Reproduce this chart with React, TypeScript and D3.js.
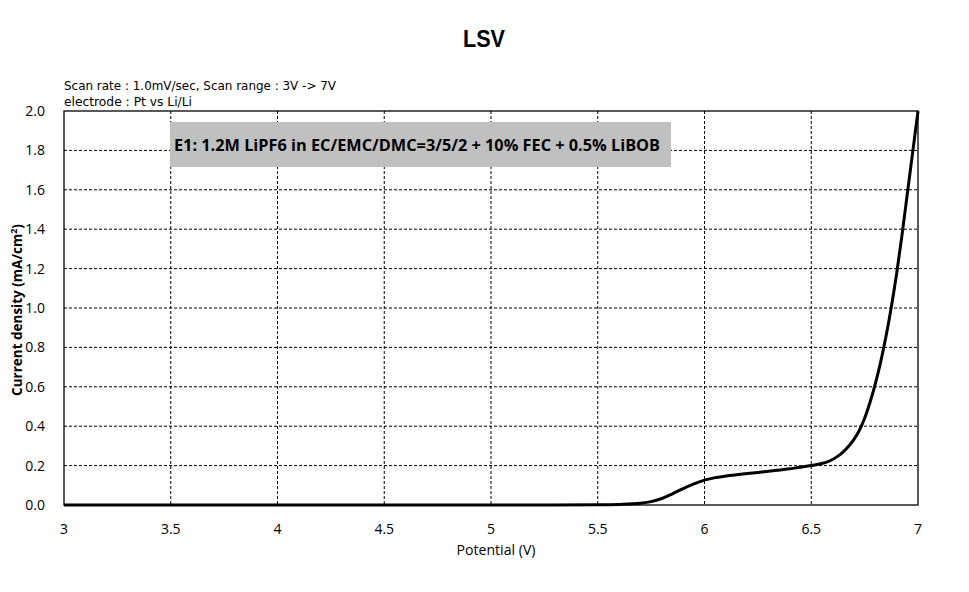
import React from "react";
import * as d3 from "d3";

const potential = [3, 3.5, 4, 4.5, 5, 5.5, 5.6, 5.7, 5.75, 5.8, 5.85, 5.9, 5.95, 6.0, 6.05, 6.1, 6.2, 6.3, 6.4, 6.5, 6.55, 6.575, 6.6, 6.625, 6.65, 6.675, 6.7, 6.725, 6.75, 6.775, 6.8, 6.825, 6.85, 6.875, 6.9, 6.925, 6.95, 6.975, 7.0];
const current = [0, 0, 0, 0, 0, 0.001, 0.003, 0.009, 0.017, 0.033, 0.057, 0.083, 0.107, 0.126, 0.139, 0.147, 0.16, 0.171, 0.184, 0.2, 0.211, 0.219, 0.231, 0.248, 0.27, 0.298, 0.333, 0.378, 0.44, 0.52, 0.615, 0.725, 0.855, 1.005, 1.175, 1.37, 1.58, 1.79, 2.0];
const xTicks = [3, 3.5, 4, 4.5, 5, 5.5, 6, 6.5, 7];
const yTicks = [0, 0.2, 0.4, 0.6, 0.8, 1.0, 1.2, 1.4, 1.6, 1.8, 2.0];
const title = "LSV";
const note1 = "Scan rate : 1.0mV/sec,  Scan range : 3V -> 7V";
const note2 = "electrode : Pt vs Li/Li";
const boxLabel = "E1: 1.2M LiPF6 in EC/EMC/DMC=3/5/2 + 10% FEC + 0.5% LiBOB";

export default function App() {
  const W = 969, H = 592;
  const L = 64, R = 918, T = 111, B = 505;
  const x = d3.scaleLinear().domain([3, 7]).range([L, R]);
  const y = d3.scaleLinear().domain([0, 2]).range([B, T]);
  const pts = potential.map((p, i) => [p, current[i]] as [number, number]);
  const line = d3.line<[number, number]>().x(d => x(d[0])).y(d => y(d[1])).curve(d3.curveMonotoneX);
  const tickFont = "'Open Sans', 'Noto Sans', sans-serif";
  return (
    <svg width={W} height={H} style={{ position: "absolute", left: 0, top: 0, background: "#fff" }}>
      <rect x={0} y={0} width={W} height={H} fill="#fff" />
      <text x={484} y={47} textAnchor="middle" fontFamily="'Liberation Sans', Arial, sans-serif" fontWeight="bold" fontSize={24} textLength={42} lengthAdjust="spacingAndGlyphs">{title}</text>
      <text x={64} y={90} fontFamily="'DejaVu Sans Condensed', 'DejaVu Sans', sans-serif" fontSize={11.5} textLength={272} lengthAdjust="spacingAndGlyphs">{note1}</text>
      <text x={64} y={106} fontFamily="'DejaVu Sans Condensed', 'DejaVu Sans', sans-serif" fontSize={11.5} textLength={128} lengthAdjust="spacingAndGlyphs">{note2}</text>
      {xTicks.slice(1, -1).map(t => (
        <line key={"gx" + t} x1={x(t)} x2={x(t)} y1={T} y2={B} stroke="#000" strokeWidth={1} strokeDasharray="3,2" />
      ))}
      {yTicks.slice(1, -1).map(t => (
        <line key={"gy" + t} x1={L} x2={R} y1={y(t)} y2={y(t)} stroke="#000" strokeWidth={1} strokeDasharray="3,2" />
      ))}
      <rect x={L} y={T} width={R - L} height={B - T} fill="none" stroke="#000" strokeWidth={1.3} />
      <rect x={170} y={122} width={501} height={45} fill="#c0c0c0" />
      <text x={174} y={151} fontFamily="'Open Sans', 'Noto Sans', sans-serif" fontWeight="bold" fontSize={15.5} textLength={486} lengthAdjust="spacingAndGlyphs">{boxLabel}</text>
      <path d={line(pts) || ""} fill="none" stroke="#000" strokeWidth={3} strokeLinejoin="round" />
      {yTicks.map(t => (
        <text key={"yl" + t} x={45} y={y(t) + 5} textAnchor="end" fontFamily={tickFont} fontSize={14}>{t.toFixed(1)}</text>
      ))}
      {xTicks.map(t => (
        <text key={"xl" + t} x={x(t)} y={534} textAnchor="middle" fontFamily={tickFont} fontSize={14}>{String(t)}</text>
      ))}
      <text x={496} y={555} textAnchor="middle" fontFamily={tickFont} fontSize={14} textLength={79} lengthAdjust="spacingAndGlyphs">Potential (V)</text>
      <text transform={`translate(22,${310}) rotate(-90)`} textAnchor="middle" fontFamily={tickFont} fontWeight="bold" fontSize={13.5}>
        Current density (mA/cm<tspan dy={-5} fontSize={9}>2</tspan><tspan dy={5}>)</tspan>
      </text>
    </svg>
  );
}
